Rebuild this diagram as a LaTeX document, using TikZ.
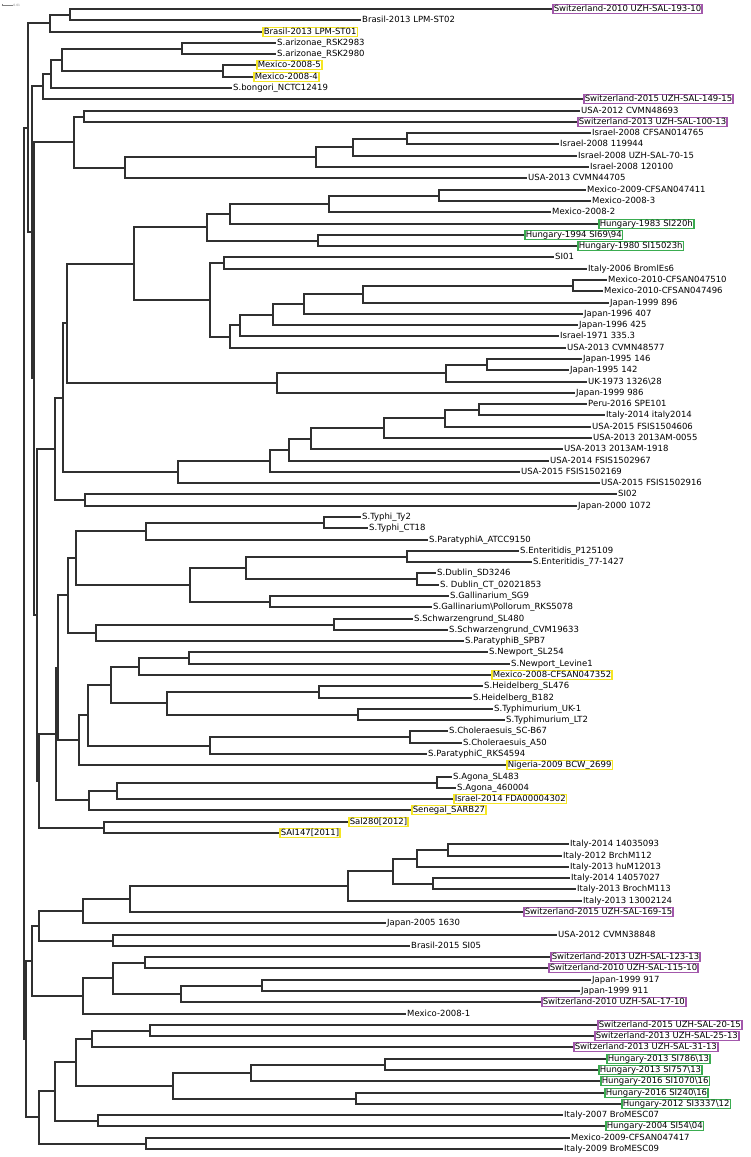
\documentclass[tikz,border=0pt]{standalone}
\usepackage{fontspec}
\setmainfont{DejaVu Sans}
\usepackage{tikz}
\usetikzlibrary{calc}

\definecolor{hlpurple}{RGB}{163,88,172}
\definecolor{hlyellow}{RGB}{245,230,35}
\definecolor{hlgreen}{RGB}{58,172,80}
\definecolor{treeline}{RGB}{48,48,48}

% internal node: name, x, first child, second child
\newcommand{\clade}[4]{%
  \path let \p1=(#3), \p2=(#4) in (#2pt,{0.5*(\y1+\y2)}) coordinate (#1);
  \draw[branch] (#1) |- (#3);
  \draw[branch] (#1) |- (#4);
}

\begin{document}
\begin{tikzpicture}[x=1pt, y=-1pt,
  branch/.style={treeline, line width=2pt},
  leaf/.style={anchor=west, inner xsep=1pt, inner ysep=0.5pt, font=\fontsize{8.5}{10}\selectfont,
    text height=6.3pt, text depth=1.8pt},
  hlP/.style={leaf, draw=hlpurple, line width=1.5pt},
  hlY/.style={leaf, draw=hlyellow, line width=1.5pt},
  hlG/.style={leaf, draw=hlgreen, line width=1.5pt}]
  \useasboundingbox (0,0) rectangle (750,1157);

  % scale bar
  \draw[gray, line width=0.4pt] (1.7,3.8) -- (1.7,6.2) (1.7,5) -- (12.7,5);
  \node[anchor=west, inner sep=0.5pt, text=gray, font=\fontsize{3}{3}\selectfont] (sbar) at (12.7,5) {0.01};

  % leaves, top block
  \node[hlP] (sw193) at (552,9) {Switzerland-2010 UZH-SAL-193-10};
  \node[leaf] (brST02) at (361,20) {Brasil-2013 LPM-ST02};
  \node[hlY] (brST01) at (262,32) {Brasil-2013 LPM-ST01};
  \node[leaf] (ari83) at (276,43) {S.arizonae\_RSK2983};
  \node[leaf] (ari80) at (276,54) {S.arizonae\_RSK2980};
  \node[hlY] (mx5) at (256,65) {Mexico-2008-5};
  \node[hlY] (mx4) at (253,77) {Mexico-2008-4};
  \node[leaf] (bong) at (232,88) {S.bongori\_NCTC12419};
  \node[hlP] (sw149) at (583,99) {Switzerland-2015 UZH-SAL-149-15};
  \node[leaf] (us693) at (580,111) {USA-2012 CVMN48693};
  \node[hlP] (sw100) at (577,122) {Switzerland-2013 UZH-SAL-100-13};
  \node[leaf] (is765) at (591,133) {Israel-2008 CFSAN014765};
  \node[leaf] (is944) at (559,144) {Israel-2008 119944};
  \node[leaf] (is70) at (577,156) {Israel-2008 UZH-SAL-70-15};
  \node[leaf] (is100) at (589,167) {Israel-2008 120100};
  \node[leaf] (us705) at (527,178) {USA-2013 CVMN44705};
  \node[leaf] (mx411) at (586,190) {Mexico-2009-CFSAN047411};
  \node[leaf] (mx3) at (591,201) {Mexico-2008-3};
  \node[leaf] (mx2) at (551,212) {Mexico-2008-2};
  \node[hlG] (hu83) at (598,224) {Hungary-1983 SI220h};
  \node[hlG] (hu94) at (524,235) {Hungary-1994 SI69\textbackslash 94};
  \node[hlG] (hu80) at (577,246) {Hungary-1980 SI15023h};
  \node[leaf] (si01) at (554,257) {SI01};
  \node[leaf] (it06) at (587,269) {Italy-2006 BromlEs6};
  \node[leaf] (mx510) at (607,280) {Mexico-2010-CFSAN047510};
  \node[leaf] (mx496) at (603,291) {Mexico-2010-CFSAN047496};
  \node[leaf] (jp896) at (609,303) {Japan-1999 896};
  \node[leaf] (jp407) at (583,314) {Japan-1996 407};
  \node[leaf] (jp425) at (578,325) {Japan-1996 425};
  \node[leaf] (is335) at (559,336) {Israel-1971 335.3};
  \node[leaf] (us577) at (566,348) {USA-2013 CVMN48577};
  \node[leaf] (jp146) at (582,359) {Japan-1995 146};
  \node[leaf] (jp142) at (569,370) {Japan-1995 142};
  \node[leaf] (uk73) at (587,382) {UK-1973 1326\textbackslash 28};
  \node[leaf] (jp986) at (575,393) {Japan-1999 986};
  \node[leaf] (pe16) at (587,404) {Peru-2016 SPE101};
  \node[leaf] (it14) at (605,415) {Italy-2014 italy2014};
  \node[leaf] (us606) at (591,427) {USA-2015 FSIS1504606};
  \node[leaf] (us055) at (592,438) {USA-2013 2013AM-0055};
  \node[leaf] (us918) at (563,449) {USA-2013 2013AM-1918};
  \node[leaf] (us967) at (549,461) {USA-2014 FSIS1502967};
  \node[leaf] (us169) at (520,472) {USA-2015 FSIS1502169};
  \node[leaf] (us916) at (600,483) {USA-2015 FSIS1502916};
  \node[leaf] (si02) at (617,494) {SI02};
  \node[leaf] (jp072) at (577,506) {Japan-2000 1072};

  % leaves, reference serovars
  \node[leaf] (ty2) at (361,517) {S.Typhi\_Ty2};
  \node[leaf] (ct18) at (368,528) {S.Typhi\_CT18};
  \node[leaf] (ptA) at (428,540) {S.ParatyphiA\_ATCC9150};
  \node[leaf] (en109) at (519,551) {S.Enteritidis\_P125109};
  \node[leaf] (en427) at (532,562) {S.Enteritidis\_77-1427};
  \node[leaf] (du246) at (436,573) {S.Dublin\_SD3246};
  \node[leaf] (du853) at (439,585) {S. Dublin\_CT\_02021853};
  \node[leaf] (ga9) at (449,596) {S.Gallinarium\_SG9};
  \node[leaf] (ga078) at (432,607) {S.Gallinarium\textbackslash Pollorum\_RKS5078};
  \node[leaf] (sc480) at (413,619) {S.Schwarzengrund\_SL480};
  \node[leaf] (sc633) at (448,630) {S.Schwarzengrund\_CVM19633};
  \node[leaf] (ptB) at (464,641) {S.ParatyphiB\_SPB7};
  \node[leaf] (nw254) at (488,652) {S.Newport\_SL254};
  \node[leaf] (nwlev) at (510,664) {S.Newport\_Levine1};
  \node[hlY] (mx352) at (491,675) {Mexico-2008-CFSAN047352};
  \node[leaf] (he476) at (483,686) {S.Heidelberg\_SL476};
  \node[leaf] (he182) at (472,698) {S.Heidelberg\_B182};
  \node[leaf] (tmuk) at (493,709) {S.Typhimurium\_UK-1};
  \node[leaf] (tmlt) at (505,720) {S.Typhimurium\_LT2};
  \node[leaf] (chb67) at (448,731) {S.Choleraesuis\_SC-B67};
  \node[leaf] (cha50) at (462,743) {S.Choleraesuis\_A50};
  \node[leaf] (ptC) at (427,754) {S.ParatyphiC\_RKS4594};
  \node[hlY] (ng09) at (506,765) {Nigeria-2009 BCW\_2699};
  \node[leaf] (ag483) at (452,777) {S.Agona\_SL483};
  \node[leaf] (ag004) at (456,788) {S.Agona\_460004};
  \node[hlY] (is14) at (453,799) {Israel-2014 FDA00004302};
  \node[hlY] (sen) at (411,810) {Senegal\_SARB27};
  \node[hlY] (sal280) at (348,822) {Sal280[2012]};
  \node[hlY] (sai147) at (279,833) {SAI147[2011]};

  % leaves, bottom block
  \node[leaf] (it093) at (569,844) {Italy-2014 14035093};
  \node[leaf] (it112) at (562,856) {Italy-2012 BrchM112};
  \node[leaf] (it013) at (569,867) {Italy-2013 huM12013};
  \node[leaf] (it027) at (570,878) {Italy-2014 14057027};
  \node[leaf] (it113) at (576,889) {Italy-2013 BrochM113};
  \node[leaf] (it124) at (582,901) {Italy-2013 13002124};
  \node[hlP] (sw169) at (523,912) {Switzerland-2015 UZH-SAL-169-15};
  \node[leaf] (jp630) at (386,923) {Japan-2005 1630};
  \node[leaf] (us848) at (557,935) {USA-2012 CVMN38848};
  \node[leaf] (br05) at (410,946) {Brasil-2015 SI05};
  \node[hlP] (sw123) at (550,957) {Switzerland-2013 UZH-SAL-123-13};
  \node[hlP] (sw115) at (548,968) {Switzerland-2010 UZH-SAL-115-10};
  \node[leaf] (jp917) at (591,980) {Japan-1999 917};
  \node[leaf] (jp911) at (580,991) {Japan-1999 911};
  \node[hlP] (sw17) at (541,1002) {Switzerland-2010 UZH-SAL-17-10};
  \node[leaf] (mx1) at (406,1014) {Mexico-2008-1};
  \node[hlP] (sw20) at (597,1025) {Switzerland-2015 UZH-SAL-20-15};
  \node[hlP] (sw25) at (594,1036) {Switzerland-2013 UZH-SAL-25-13};
  \node[hlP] (sw31) at (573,1047) {Switzerland-2013 UZH-SAL-31-13};
  \node[hlG] (hu786) at (606,1059) {Hungary-2013 SI786\textbackslash 13};
  \node[hlG] (hu757) at (598,1070) {Hungary-2013 SI757\textbackslash 13};
  \node[hlG] (hu1070) at (600,1081) {Hungary-2016 SI1070\textbackslash 16};
  \node[hlG] (hu240) at (604,1093) {Hungary-2016 SI240\textbackslash 16};
  \node[hlG] (hu3337) at (621,1104) {Hungary-2012 SI3337\textbackslash 12};
  \node[leaf] (it07) at (563,1115) {Italy-2007 BroMESC07};
  \node[hlG] (hu04) at (605,1126) {Hungary-2004 SI54\textbackslash 04};
  \node[leaf] (mx417) at (570,1138) {Mexico-2009-CFSAN047417};
  \node[leaf] (it09) at (563,1149) {Italy-2009 BroMESC09};

  % clades, top
  \clade{a1}{70}{sw193}{brST02}
  \clade{a2}{50}{a1}{brST01}
  \clade{b1}{182}{ari83}{ari80}
  \clade{b2}{223}{mx5}{mx4}
  \clade{b3}{62}{b1}{b2}
  \clade{b4}{51}{b3}{bong}
  \clade{b5}{43}{b4}{sw149}
  \clade{c1}{84}{us693}{sw100}
  \clade{c2}{407}{is765}{is944}
  \clade{c3}{353}{c2}{is70}
  \clade{c4}{316}{c3}{is100}
  \clade{c5}{125}{c4}{us705}
  \clade{c6}{74}{c1}{c5}
  \clade{d1}{439}{mx411}{mx3}
  \clade{d2}{329}{d1}{mx2}
  \clade{d3}{230}{d2}{hu83}
  \clade{d4}{318}{hu94}{hu80}
  \clade{d5}{207}{d3}{d4}
  \clade{d6}{224}{si01}{it06}
  \clade{d7}{573}{mx510}{mx496}
  \clade{d8}{363}{d7}{jp896}
  \clade{d9}{304}{d8}{jp407}
  \clade{d10}{273}{d9}{jp425}
  \clade{d11}{240}{d10}{is335}
  \clade{d12}{230}{d11}{us577}
  \clade{d13}{210}{d6}{d12}
  \clade{d14}{134}{d5}{d13}
  \clade{d15}{487}{jp146}{jp142}
  \clade{d16}{446}{d15}{uk73}
  \clade{d17}{277}{d16}{jp986}
  \clade{d18}{67}{d14}{d17}
  \clade{d19}{479}{pe16}{it14}
  \clade{d20}{445}{d19}{us606}
  \clade{d21}{384}{d20}{us055}
  \clade{d22}{311}{d21}{us918}
  \clade{d23}{289}{d22}{us967}
  \clade{d24}{270}{d23}{us169}
  \clade{d25}{178}{d24}{us916}
  \clade{d26}{63}{d18}{d25}
  \clade{d27}{85}{si02}{jp072}
  \clade{d28}{55}{d26}{d27}

  % clades, reference serovars
  \clade{e1}{324}{ty2}{ct18}
  \clade{e2}{146}{e1}{ptA}
  \clade{e3}{407}{en109}{en427}
  \clade{e4}{417}{du246}{du853}
  \clade{e5}{246}{e3}{e4}
  \clade{e6}{270}{ga9}{ga078}
  \clade{e7}{190}{e5}{e6}
  \clade{e8}{76}{e2}{e7}
  \clade{e9}{334}{sc480}{sc633}
  \clade{e10}{96}{e9}{ptB}
  \clade{e11}{68}{e8}{e10}
  \clade{e12}{189}{nw254}{nwlev}
  \clade{e13}{139}{e12}{mx352}
  \clade{e14}{319}{he476}{he182}
  \clade{e15}{358}{tmuk}{tmlt}
  \clade{e16}{167}{e14}{e15}
  \clade{e17}{111}{e13}{e16}
  \clade{e18}{410}{chb67}{cha50}
  \clade{e19}{210}{e18}{ptC}
  \clade{e20}{88}{e17}{e19}
  \clade{e21}{79}{e20}{ng09}
  \clade{e22}{58}{e11}{e21}
  \clade{e23}{437}{ag483}{ag004}
  \clade{e24}{117}{e23}{is14}
  \clade{e25}{89}{e24}{sen}
  \clade{e26}{56}{e22}{e25}
  \clade{e27}{104}{sal280}{sai147}
  \clade{e28}{39}{e26}{e27}
  \clade{e29}{37}{d28}{e28}
  \clade{e30}{34}{c6}{e29}
  \clade{b6}{32}{b5}{e30}
  \clade{top}{28}{a2}{b6}

  % clades, bottom
  \clade{f1}{448}{it093}{it112}
  \clade{f2}{417}{f1}{it013}
  \clade{f3}{433}{it027}{it113}
  \clade{f4}{393}{f2}{f3}
  \clade{f5}{348}{f4}{it124}
  \clade{f6}{130}{f5}{sw169}
  \clade{f7}{83}{f6}{jp630}
  \clade{f8}{113}{us848}{br05}
  \clade{f9}{39}{f7}{f8}
  \clade{f10}{145}{sw123}{sw115}
  \clade{f11}{262}{jp917}{jp911}
  \clade{f12}{181}{f11}{sw17}
  \clade{f13}{113}{f10}{f12}
  \clade{f14}{83}{f13}{mx1}
  \clade{f15}{32}{f9}{f14}
  \clade{g1}{150}{sw20}{sw25}
  \clade{g2}{92}{g1}{sw31}
  \clade{g3}{385}{hu786}{hu757}
  \clade{g4}{251}{g3}{hu1070}
  \clade{g5}{356}{hu240}{hu3337}
  \clade{g6}{173}{g4}{g5}
  \clade{g7}{76}{g2}{g6}
  \clade{g8}{98}{it07}{hu04}
  \clade{g9}{55}{g7}{g8}
  \clade{g10}{146}{mx417}{it09}
  \clade{g11}{39}{g9}{g10}
  \clade{g12}{26}{f15}{g11}
  \clade{root}{24}{top}{g12}
\end{tikzpicture}
\end{document}
